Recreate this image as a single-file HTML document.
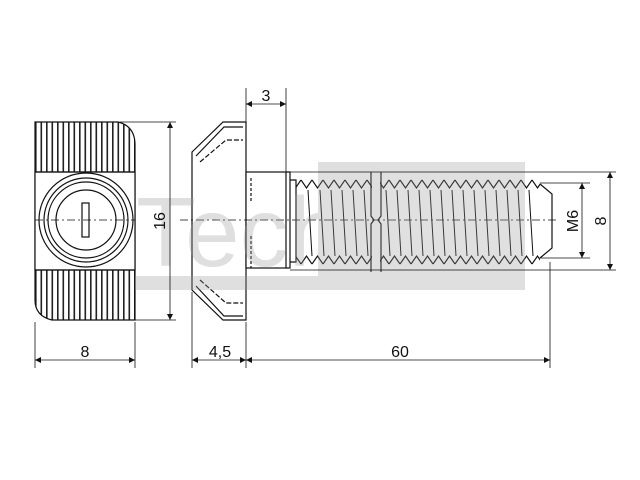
<!DOCTYPE html>
<html><head><meta charset="utf-8"><style>
html,body{margin:0;padding:0;background:#fff;width:640px;height:480px;overflow:hidden}
svg{display:block}
text{font-family:"Liberation Sans",sans-serif;fill:#111}
</style></head><body>
<svg width="640" height="480" viewBox="0 0 640 480" xmlns="http://www.w3.org/2000/svg">
<defs>
<pattern id="ridge" x="35" y="0" width="5.5" height="10" patternUnits="userSpaceOnUse">
<rect width="5.5" height="10" fill="#fff"/><rect x="0" width="1.6" height="10" fill="#222"/>
</pattern>
<pattern id="zig" x="290" y="178" width="11" height="12" patternUnits="userSpaceOnUse">
<polyline points="0,2 5.5,10 11,2" fill="none" stroke="#111" stroke-width="1.2"/>
</pattern>
<pattern id="zigb" x="290" y="254" width="11" height="12" patternUnits="userSpaceOnUse">
<polyline points="0,10 5.5,2 11,10" fill="none" stroke="#111" stroke-width="1.2"/>
</pattern>
<marker id="a" viewBox="0 0 10 10" refX="10" refY="5" markerWidth="9" markerHeight="6" orient="auto-start-reverse" markerUnits="userSpaceOnUse"><path d="M0,0L10,5L0,10z" fill="#111"/></marker>
</defs>

<g stroke="#111" stroke-width="1.2" fill="none">
<!-- T-nut front view -->
<path d="M35,122 H118 Q135,126 135,145 V320 H52 Q35,316 35,300 Z" fill="url(#ridge)"/>
<rect x="35" y="172" width="100" height="98" fill="#fff"/>
<path d="M35,172 H135 M35,270 H135"/>
<circle cx="86" cy="220" r="47" fill="#fff"/>
<circle cx="86" cy="220" r="42"/>
<circle cx="86" cy="220" r="38"/>
<circle cx="86" cy="220" r="30"/>
<rect x="82" y="203" width="7" height="34"/>
<line x1="35" y1="220" x2="135" y2="220" stroke-dasharray="8,3,2,3" stroke-width="0.8"/>

<!-- head -->
<path d="M192,152 L223,122 H246 V320 H223 L192,290 Z" fill="#fff"/>
<path d="M196,156 L224,127 H243 M196,286 L224,316 H243" />
<path d="M200,162 L226,140 H243 M200,280 L226,303 H243" stroke-dasharray="5,2"/>
<!-- neck -->
<rect x="246" y="172" width="40" height="96" fill="#fff"/>
<path d="M251,178 V202 M251,236 V268" stroke-dasharray="3,2"/>
<path d="M286,172 H290 V268 H286"/>
<!-- thread -->
<path d="M290,180 H296 V262 H290"/>
<rect x="296" y="178" width="244" height="12" fill="url(#zig)" stroke="none"/>
<rect x="296" y="254" width="244" height="12" fill="url(#zigb)" stroke="none"/>
<path d="M540,184 L552,194 V248 L540,258"/>
<g stroke-width="1">
<path d="M308,190 L312,256 M320,190 L324,256 M331,190 L335,256 M342,190 L346,256 M353,190 L357,256 M364,190 L368,256 M386,190 L390,256 M397,190 L401,256 M408,190 L412,256 M419,190 L423,256 M430,190 L434,256 M441,190 L445,256 M452,190 L456,256 M463,190 L467,256 M474,190 L478,256 M485,190 L489,256 M496,190 L500,256 M507,190 L511,256 M518,190 L522,256 M529,190 L533,256"/>
</g>
<rect x="372" y="172" width="8" height="100" fill="#fff" stroke="none"/>
<path d="M371,172 V216 L374,220 L371,224 V272 M381,172 V216 L378,220 L381,224 V272"/>
<line x1="180" y1="220" x2="556" y2="220" stroke-dasharray="8,3,2,3" stroke-width="0.8"/>
</g>

<!-- watermark overlay -->
<g opacity="0.3">
<rect x="318" y="162" width="207" height="114" fill="#999"/>
<rect x="135" y="276" width="390" height="14" fill="#999"/>
<text x="136" y="266" font-size="98" style="fill:#999">Tech</text>
</g>

<!-- dimensions -->
<g stroke="#111" stroke-width="0.8" fill="none">
<path d="M120,122 H176 M120,320 H176"/>
<line x1="170" y1="122" x2="170" y2="320" marker-start="url(#a)" marker-end="url(#a)"/>
<path d="M35,322 V368 M135,322 V368 M192,292 V368 M246,322 V368 M550,262 V368"/>
<line x1="35" y1="360" x2="135" y2="360" marker-start="url(#a)" marker-end="url(#a)"/>
<line x1="192" y1="360" x2="246" y2="360" marker-start="url(#a)" marker-end="url(#a)"/>
<line x1="246" y1="360" x2="550" y2="360" marker-start="url(#a)" marker-end="url(#a)"/>
<path d="M246,88 V122 M286,88 V172"/>
<line x1="246" y1="104" x2="286" y2="104" marker-start="url(#a)" marker-end="url(#a)"/>
<path d="M290,172 H616 M290,270 H616 M540,183 H590 M540,258 H590"/>
<line x1="582" y1="183" x2="582" y2="258" marker-start="url(#a)" marker-end="url(#a)"/>
<line x1="610" y1="172" x2="610" y2="270" marker-start="url(#a)" marker-end="url(#a)"/>
</g>
<g font-size="16">
<text x="85" y="357" text-anchor="middle">8</text>
<text x="220" y="357" text-anchor="middle">4,5</text>
<text x="400" y="357" text-anchor="middle">60</text>
<text x="266" y="101" text-anchor="middle">3</text>
<text transform="translate(165,221) rotate(-90)" text-anchor="middle">16</text>
<text transform="translate(578,221) rotate(-90)" text-anchor="middle">M6</text>
<text transform="translate(606,221) rotate(-90)" text-anchor="middle">8</text>
</g>
</svg>
</body></html>
